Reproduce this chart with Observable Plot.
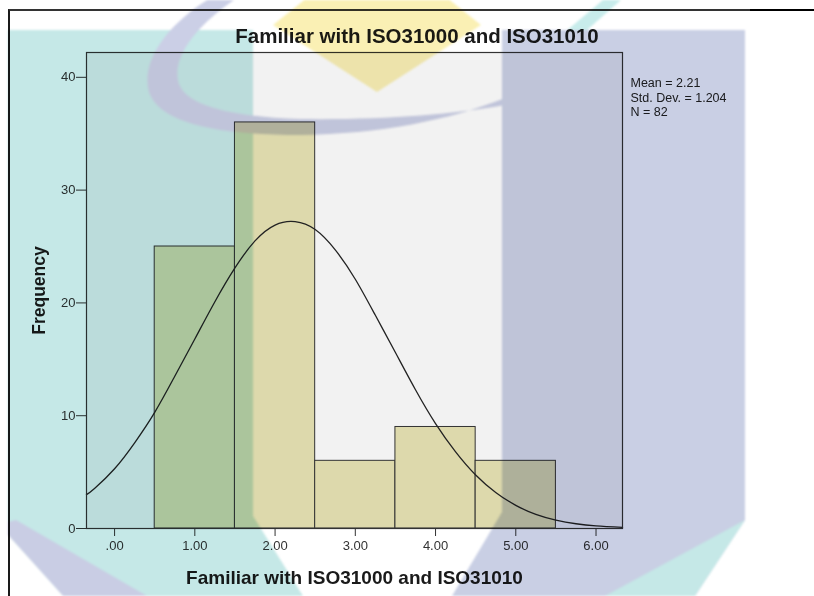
<!DOCTYPE html>
<html>
<head>
<meta charset="utf-8">
<script src="https://cdn.jsdelivr.net/npm/d3@7"></script>
<script src="https://cdn.jsdelivr.net/npm/@observablehq/plot@0.6"></script>
<style>
  html, body { margin: 0; padding: 0; background: #fff; }
  #page { position: relative; width: 814px; height: 596px; overflow: hidden; font-family: "Liberation Sans", Arial, sans-serif; }
  #outer { position: absolute; left: 8px; top: 9px; width: 806px; height: 590px; border-top: 2px solid #333; border-left: 2px solid #1a1a1a; }
  #outer2 { position: absolute; left: 750px; top: 9px; width: 64px; height: 2px; background: #000; }
  #title { position: relative; box-sizing: border-box; width: 814px; height: 48px; padding: 24px 0 0 20px; line-height: 24px; text-align: center; font-weight: bold; font-size: 20.5px; color: #1a1a1a; }
  #chart { position: relative; }
  #chart svg g[aria-label="x-axis label"] text { font-weight: bold; font-size: 19px; fill: #1a1a1a; }
  #chart svg g[aria-label="y-axis label"] text { font-weight: bold; font-size: 17.5px; fill: #1a1a1a; }
  #wm { position: absolute; left: 0; top: 0; width: 814px; height: 596px; mix-blend-mode: multiply; pointer-events: none; filter: blur(1.2px); z-index: 10; }
  #wm .s { position: absolute; left: 0; top: 0; width: 814px; height: 596px; }
</style>
</head>
<body>
<div id="page">
  <div id="outer"></div>
  <div id="outer2"></div>
  <div id="title">Familiar with ISO31000 and ISO31010</div>
  <div id="chart"></div>
  <div id="wm">
    <div class="s" style="background:#c5e8e7; clip-path: polygon(8px 30px, 253px 30px, 253px 516px, 303px 596px, 8px 596px);"></div>
    <div class="s" style="background:#c9cde4; clip-path: polygon(8px 522px, 16px 520px, 147px 596px, 63px 596px, 8px 535px);"></div>
    <div class="s" style="background:#ffffff; clip-path: polygon(8px 535px, 63px 596px, 8px 596px);"></div>
    <div class="s" style="background:#faf0b4; clip-path: polygon(377px -58px, 481px 25px, 377px 92px, 273px 25px);"></div>
    <div class="s" style="background:#cbcfe6; clip-path: path('M 214 -4 C 172 20, 140 58, 149 92 C 160 126, 228 135, 300 135 C 380 134, 450 120, 505 98 L 505 105 C 450 115, 380 120, 300 119 C 240 117, 188 108, 179 84 C 170 56, 200 22, 240 -4 Z');"></div>
    <div class="s" style="background:#c8eceb; clip-path: polygon(603px 0px, 621px 0px, 526px 84px, 508px 80px);"></div>
    <div class="s" style="background:#c9cfe4; clip-path: polygon(502px 30px, 745px 30px, 745px 520px, 695px 596px, 452px 596px, 502px 512px);"></div>
    <div class="s" style="background:#c5e8e7; clip-path: polygon(745px 520px, 695px 596px, 605px 596px);"></div>
  </div>
</div>
<script>
// Histogram bins (from the picture)
const binStart = [0.5, 1.5, 2.5, 3.5, 4.5];
const binEnd   = [1.5, 2.5, 3.5, 4.5, 5.5];
const counts   = [25, 36, 6, 9, 6];

// Fitted normal curve
const curveX = [-0.35, -0.25, 0, 0.25, 0.5, 0.75, 1, 1.25, 1.5, 1.75, 2, 2.25, 2.5, 2.75, 3, 3.25, 3.5, 3.75, 4, 4.25, 4.5, 4.75, 5, 5.25, 5.5, 5.75, 6, 6.33];
const curveY = [3.0, 3.55, 5.3, 7.6, 10.3, 13.5, 16.8, 20.1, 23.1, 25.5, 26.9, 27.2, 26.5, 24.7, 22.1, 18.9, 15.6, 12.3, 9.3, 6.8, 4.75, 3.2, 2.05, 1.25, 0.74, 0.42, 0.23, 0.1];

// Axis ticks
const xTicks = [0, 1, 2, 3, 4, 5, 6];
const xTickLabels = [".00", "1.00", "2.00", "3.00", "4.00", "5.00", "6.00"];
const yTicks = [0, 10, 20, 30, 40];

// Statistics annotation
const statLines = ["Mean = 2.21", "Std. Dev. = 1.204", "N = 82"];

const bins = binStart.map((s, i) => ({x1: s, x2: binEnd[i], y: counts[i]}));
const curvePts = curveX.map((x, i) => ({x, y: curveY[i]}));

const statMarks = statLines.map((t, i) =>
  Plot.text([t], {frameAnchor: "top-right", dx: 8, dy: 26 + 14.5 * i, textAnchor: "start", lineAnchor: "top",
    fontSize: 12.5, fill: "#222"}));

const chart = Plot.plot({
  width: 814,
  height: 548,
  marginLeft: 86,
  marginRight: 192,
  marginTop: 4,
  marginBottom: 68,
  style: {background: "transparent", fontFamily: "'Liberation Sans', Arial, sans-serif", fontSize: "13px", color: "#333", overflow: "visible"},
  x: {domain: [-0.35, 6.33]},
  y: {domain: [0, 42.2]},
  marks: [
    Plot.frame({fill: "#f2f2f2", stroke: "none"}),
    Plot.rectY(bins, {x1: "x1", x2: "x2", y: "y", fill: "#ddd9ac", stroke: "#333", strokeWidth: 1}),
    Plot.line(curvePts, {x: "x", y: "y", curve: "natural", stroke: "#222", strokeWidth: 1.3}),
    Plot.frame({stroke: "#333", strokeWidth: 1.2}),
    Plot.axisX({ticks: xTicks, tickFormat: d => xTickLabels[xTicks.indexOf(d)], tickSize: 8, tickPadding: 4,
      label: "Familiar with ISO31000 and ISO31010", labelAnchor: "center", labelArrow: "none", labelOffset: 55}),
    Plot.axisY({ticks: yTicks, tickSize: 10, tickPadding: 1,
      label: "Frequency", labelAnchor: "center", labelArrow: "none", labelOffset: 54}),
    ...statMarks
  ]
});
document.getElementById("chart").appendChild(chart);
</script>
</body>
</html>
